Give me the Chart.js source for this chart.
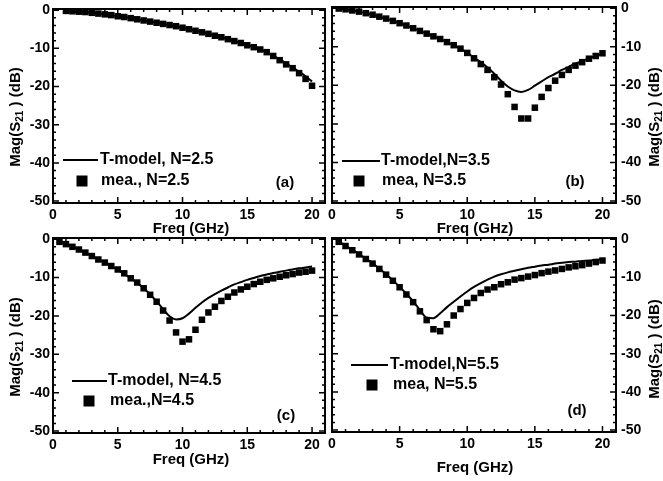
<!DOCTYPE html>
<html>
<head>
<meta charset="utf-8">
<script src="https://cdn.jsdelivr.net/npm/chart.js@4/dist/chart.umd.min.js"></script>
<style>
  body { margin: 0; background: #fff; }
  #wrap { position: relative; width: 663px; height: 481px; }
  #wrap canvas { position: absolute; left: 0; top: 0; }
</style>
</head>
<body>
<div id="wrap">
  <canvas id="chartA" width="663" height="481"></canvas>
  <canvas id="chartB" width="663" height="481"></canvas>
  <canvas id="chartC" width="663" height="481"></canvas>
  <canvas id="chartD" width="663" height="481"></canvas>
</div>
<script>
// Frequencies (GHz)
const freqA = [1, 1.5, 2, 2.5, 3, 3.5, 4, 4.5, 5, 5.5, 6, 6.5, 7, 7.5, 8, 8.5, 9, 9.5, 10, 10.5,
  11, 11.5, 12, 12.5, 13, 13.5, 14, 14.5, 15, 15.5, 16, 16.5, 17, 17.5, 18, 18.5, 19, 19.5, 20];
const freq = [0.5, 1, 1.5, 2, 2.5, 3, 3.5, 4, 4.5, 5, 5.5, 6, 6.5, 7, 7.5, 8, 8.5, 9, 9.5, 10, 10.5,
  11, 11.5, 12, 12.5, 13, 13.5, 14, 14.5, 15, 15.5, 16, 16.5, 17, 17.5, 18, 18.5, 19, 19.5, 20];

// (a) N=2.5
const meaA = [-0.2, -0.3, -0.4, -0.5, -0.7, -0.9, -1.1, -1.3, -1.6, -1.8, -2.1, -2.4, -2.7, -3.0, -3.3, -3.6,
  -3.9, -4.2, -4.6, -5.0, -5.4, -5.8, -6.2, -6.7, -7.1, -7.6, -8.1, -8.6, -9.2, -9.7, -10.3, -11.0,
  -12.0, -13.1, -14.2, -15.2, -16.5, -18.0, -19.8];
const modelA = [-0.2, -0.3, -0.4, -0.5, -0.7, -0.9, -1.1, -1.3, -1.6, -1.8, -2.1, -2.4, -2.7, -3.0, -3.3, -3.6,
  -3.9, -4.2, -4.6, -5.0, -5.4, -5.8, -6.2, -6.7, -7.1, -7.6, -8.1, -8.6, -9.2, -9.7, -10.3, -11.0,
  -11.9, -12.9, -13.9, -15.0, -16.1, -17.3, -18.7];

// (b) N=3.5
const meaB = [-0.1, -0.3, -0.6, -0.9, -1.3, -1.7, -2.2, -2.7, -3.3, -3.9, -4.5, -5.2, -5.9, -6.6, -7.3, -8.0,
  -8.8, -9.6, -10.5, -11.6, -13.0, -14.5, -16.0, -17.9, -19.8, -22.3, -25.6, -28.6, -28.6, -25.8,
  -23.0, -20.7, -18.8, -17.3, -16.0, -14.9, -14.0, -13.1, -12.4, -11.7];
const modelB = [-0.1, -0.3, -0.6, -0.9, -1.3, -1.7, -2.2, -2.7, -3.3, -3.9, -4.5, -5.2, -5.9, -6.6, -7.3, -8.0,
  -8.8, -9.6, -10.5, -11.6, -12.8, -14.0, -15.4, -17.0, -18.8, -20.3, -21.3, -21.7, -21.2, -20.1,
  -19.0, -17.9, -17.0, -16.0, -15.2, -14.4, -13.7, -13.0, -12.4, -11.8];

// (c) N=4.5
const meaC = [-0.7, -1.3, -2.0, -2.7, -3.5, -4.4, -5.3, -6.1, -7.0, -7.9, -8.9, -10.2, -11.3, -12.8, -14.5, -16.3,
  -18.6, -21.2, -24.3, -26.7, -26.1, -23.6, -21.0, -19.1, -17.6, -16.1, -15.0, -13.9, -13.1, -12.4,
  -11.7, -11.1, -10.6, -10.2, -9.8, -9.4, -9.1, -8.7, -8.5, -8.2];
const modelC = [-0.6, -1.2, -1.9, -2.7, -3.5, -4.4, -5.2, -6.1, -7.0, -8.0, -9.1, -10.2, -11.4, -12.8, -14.4, -16.2,
  -18.2, -20.1, -20.9, -20.6, -19.4, -17.9, -16.5, -15.3, -14.3, -13.4, -12.6, -11.8, -11.2, -10.6,
  -10.1, -9.6, -9.2, -8.8, -8.5, -8.2, -7.9, -7.6, -7.4, -7.1];

// (d) N=5.5
const meaD = [-0.7, -1.8, -2.9, -4.0, -5.2, -6.4, -7.8, -9.3, -10.9, -12.6, -14.5, -16.5, -18.9, -21.2, -23.6, -24.1,
  -22.3, -20.0, -18.3, -16.7, -15.4, -14.1, -13.2, -12.6, -11.8, -11.3, -10.6, -10.2, -9.8, -9.4,
  -8.9, -8.5, -8.2, -7.8, -7.4, -7.1, -6.8, -6.4, -6.0, -5.6];
const modelD = [-0.6, -1.7, -2.8, -3.9, -5.1, -6.3, -7.7, -9.2, -10.8, -12.5, -14.3, -16.3, -18.5, -20.6, -20.7, -19.4,
  -17.8, -16.4, -15.0, -13.7, -12.5, -11.5, -10.6, -9.8, -9.2, -8.7, -8.3, -7.9, -7.5, -7.2,
  -6.9, -6.7, -6.4, -6.2, -6.0, -5.9, -5.7, -5.6, -5.4, -5.3];

// Tick labels
const xTicks = [0, 5, 10, 15, 20];
const yTicks = [0, -10, -20, -30, -40, -50];

const FONT = '"Liberation Sans", Arial, sans-serif';
const W = 663, H = 481;

function toPoints(xs, ys) {
  return xs.map((f, i) => ({ x: f, y: ys[i] }));
}

// rotated "Mag(S21) (dB)" with subscript
function drawMagTitle(ctx, cx, cy) {
  const big = 'bold 15px ' + FONT, small = 'bold 10px ' + FONT;
  const parts = [['Mag(S', big, 0], ['21', small, 4], [' ) (dB)', big, 0]];
  ctx.save();
  ctx.translate(cx, cy);
  ctx.rotate(-Math.PI / 2);
  ctx.textAlign = 'left';
  ctx.textBaseline = 'middle';
  let total = 0;
  parts.forEach(p => { ctx.font = p[1]; total += ctx.measureText(p[0]).width; });
  let pos = -total / 2;
  parts.forEach(p => {
    ctx.font = p[1];
    ctx.fillText(p[0], pos, p[2]);
    pos += ctx.measureText(p[0]).width;
  });
  ctx.restore();
}

// frame, inward ticks, legend, titles
const panelDecor = {
  id: 'panelDecor',
  afterDraw(chart, args, o) {
    const { ctx, chartArea: a } = chart;
    const x = chart.scales.x, y = chart.scales.y;
    ctx.save();
    ctx.strokeStyle = '#000';
    ctx.fillStyle = '#000';

    ctx.lineWidth = 1.5;
    ctx.beginPath();
    for (let f = 1; f <= 20; f++) {
      const px = x.getPixelForValue(f);
      const len = f % 5 === 0 ? 6 : 3;
      ctx.moveTo(px, a.top); ctx.lineTo(px, a.top + len);
      ctx.moveTo(px, a.bottom); ctx.lineTo(px, a.bottom - len);
    }
    for (let v = 0; v >= -50; v -= 2) {
      const py = y.getPixelForValue(v);
      const len = v % 10 === 0 ? 6 : 3;
      ctx.moveTo(a.left, py); ctx.lineTo(a.left + len, py);
      ctx.moveTo(a.right, py); ctx.lineTo(a.right - len, py);
    }
    ctx.stroke();

    ctx.lineWidth = 2;
    ctx.strokeRect(a.left, a.top, a.right - a.left, a.bottom - a.top);

    // legend
    const lg = o.legend;
    ctx.beginPath();
    ctx.moveTo(lg.line[0], lg.line[2]);
    ctx.lineTo(lg.line[1], lg.line[2]);
    ctx.stroke();
    ctx.fillRect(lg.square[0] - 5.5, lg.square[1] - 5.5, 11, 11);
    ctx.font = 'bold 16px ' + FONT;
    ctx.textAlign = 'left';
    ctx.textBaseline = 'middle';
    ctx.fillText(lg.names[0], lg.textX[0], lg.line[2]);
    ctx.fillText(lg.names[1], lg.textX[1], lg.square[1]);

    ctx.font = 'bold 15px ' + FONT;
    ctx.textAlign = 'center';
    ctx.fillText(o.label, o.labelPos[0], o.labelPos[1]);
    ctx.fillText('Freq (GHz)', o.xTitle[0], o.xTitle[1]);
    drawMagTitle(ctx, o.yTitle[0], o.yTitle[1]);
    ctx.restore();
  }
};

const panels = [
  { id: 'chartA', area: [53, 9, 325, 203], side: 'left', fx: freqA, mea: meaA, model: modelA, fm: freqA,
    label: '(a)', labelPos: [285, 183], xTitle: [191, 229], yTitle: [16, 117],
    legend: { names: ['T-model, N=2.5', 'mea., N=2.5'], line: [63, 98, 160], square: [82, 181], textX: [100, 101] } },
  { id: 'chartB', area: [332, 7, 616, 203], side: 'right', fx: freq, mea: meaB, model: modelB, fm: freq,
    label: '(b)', labelPos: [575, 182], xTitle: [475, 229], yTitle: [655, 117],
    legend: { names: ['T-model,N=3.5', 'mea, N=3.5'], line: [342, 380, 161], square: [359, 181], textX: [381, 382] } },
  { id: 'chartC', area: [53, 238, 325, 433], side: 'left', fx: freq, mea: meaC, model: modelC, fm: freq,
    label: '(c)', labelPos: [286, 416], xTitle: [191, 460], yTitle: [16, 347],
    legend: { names: ['T-model, N=4.5', 'mea.,N=4.5'], line: [72, 107, 381], square: [89, 401], textX: [108, 110] } },
  { id: 'chartD', area: [332, 238, 616, 432], side: 'right', fx: freq, mea: meaD, model: modelD, fm: freq,
    label: '(d)', labelPos: [577, 411], xTitle: [475, 468], yTitle: [655, 349],
    legend: { names: ['T-model,N=5.5', 'mea, N=5.5'], line: [351, 388, 365], square: [372, 385], textX: [390, 393] } }
];

const Y_W = 40, X_H = 20;

function zeroPad(scale) {
  scale.paddingLeft = 0; scale.paddingRight = 0;
  scale.paddingTop = 0; scale.paddingBottom = 0;
}

panels.forEach(p => {
  const [L, T, R, B] = p.area;
  const padding = p.side === 'left'
    ? { left: L - Y_W, right: W - R, top: T, bottom: H - B - X_H }
    : { left: L, right: W - R - Y_W, top: T, bottom: H - B - X_H };

  new Chart(document.getElementById(p.id), {
    type: 'scatter',
    data: {
      datasets: [{
        data: toPoints(p.fm, p.model),
        showLine: true,
        borderColor: '#000',
        borderWidth: 2,
        pointRadius: 0,
        cubicInterpolationMode: 'monotone'
      }, {
        data: toPoints(p.fx, p.mea),
        showLine: false,
        pointStyle: 'rect',
        pointRadius: 4.6,
        backgroundColor: '#000',
        borderWidth: 0
      }]
    },
    options: {
      responsive: false,
      animation: false,
      devicePixelRatio: 1,
      layout: { padding },
      plugins: {
        legend: { display: false },
        tooltip: { enabled: false },
        panelDecor: { label: p.label, labelPos: p.labelPos, xTitle: p.xTitle, yTitle: p.yTitle, legend: p.legend }
      },
      scales: {
        x: {
          type: 'linear', position: 'bottom', min: 0, max: 21,
          grid: { display: false, drawTicks: false }, border: { display: false },
          ticks: { color: '#000', padding: 4, maxRotation: 0, font: { family: FONT, size: 14, weight: 'bold' } },
          afterBuildTicks: s => { s.ticks = xTicks.map(v => ({ value: v })); },
          afterFit: s => { s.height = X_H; zeroPad(s); }
        },
        y: {
          type: 'linear', position: p.side, min: -50.5, max: 0.3,
          grid: { display: false, drawTicks: false }, border: { display: false },
          ticks: { color: '#000', padding: p.side === 'left' ? 3 : 5, font: { family: FONT, size: 14, weight: 'bold' } },
          afterBuildTicks: s => { s.ticks = yTicks.map(v => ({ value: v })); },
          afterFit: s => { s.width = Y_W; zeroPad(s); }
        }
      }
    },
    plugins: [panelDecor]
  });
});
</script>
</body>
</html>
